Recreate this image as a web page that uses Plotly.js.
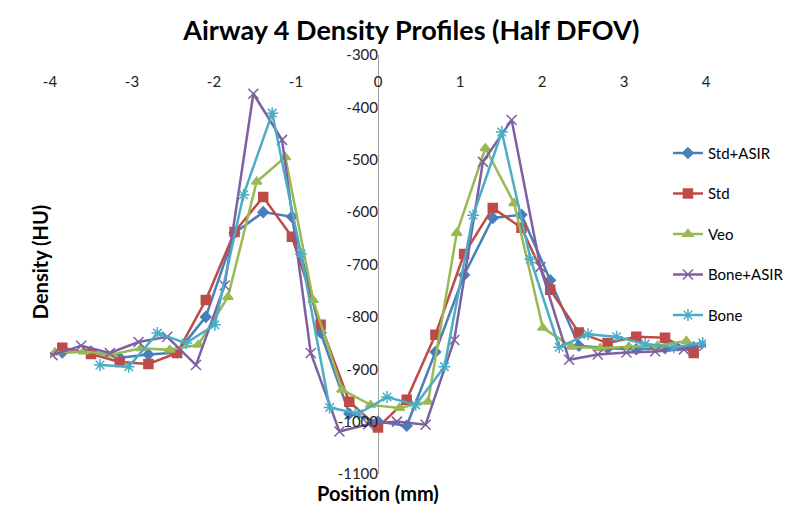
<!DOCTYPE html>
<html>
<head>
<meta charset="utf-8">
<script src="https://cdn.plot.ly/plotly-3.0.1.min.js"></script>
<style>html,body{margin:0;padding:0;background:#fff;}#chart{width:794px;height:506px;}</style>
</head>
<body>
<div id="chart"></div>
<script>
// Position (mm) and density (HU) for each reconstruction
const stdAsirX = [-3.85,-3.5,-3.15,-2.8,-2.45,-2.1,-1.75,-1.4,-1.05,-0.7,-0.35,0,0.35,0.7,1.05,1.4,1.75,2.1,2.45,2.8,3.15,3.5,3.85];
const stdAsirY = [-868,-866,-878,-872,-868,-800,-640,-600,-609,-830,-985,-1000,-1008,-867,-720,-611,-605,-730,-855,-860,-862,-860,-858];

const stdX = [-3.85,-3.5,-3.15,-2.8,-2.45,-2.1,-1.75,-1.4,-1.05,-0.7,-0.35,0,0.35,0.7,1.05,1.4,1.75,2.1,2.45,2.8,3.15,3.5,3.85];
const stdY = [-859,-871,-886,-890,-869,-768,-638,-571,-647,-815,-962,-1011,-958,-834,-680,-592,-630,-748,-830,-850,-838,-840,-869];

const veoX = [-3.94,-3.59,-3.24,-2.89,-2.54,-2.19,-1.83,-1.48,-1.13,-0.79,-0.44,-0.09,0.26,0.61,0.96,1.31,1.66,2.01,2.36,2.71,3.06,3.41,3.76];
const veoY = [-868,-866,-872,-860,-863,-853,-762,-542,-495,-768,-939,-968,-974,-962,-640,-478,-583,-821,-857,-860,-857,-855,-846];

const boneAsirX = [-3.97,-3.62,-3.27,-2.92,-2.57,-2.22,-1.87,-1.52,-1.17,-0.82,-0.47,-0.12,0.23,0.58,0.93,1.28,1.63,1.98,2.33,2.68,3.03,3.38,3.73,3.98];
const boneAsirY = [-873,-855,-869,-848,-838,-892,-740,-374,-462,-869,-1019,-1005,-1000,-1006,-844,-504,-424,-705,-882,-872,-868,-866,-862,-855];

const boneX = [-3.39,-3.04,-2.69,-2.34,-1.99,-1.64,-1.29,-0.94,-0.59,-0.24,0.11,0.46,0.81,1.16,1.51,1.86,2.21,2.56,2.91,3.26,3.61,3.96];
const boneY = [-892,-895,-831,-850,-815,-567,-411,-680,-973,-985,-953,-968,-895,-606,-447,-690,-858,-833,-838,-852,-858,-850];

const yTicks = [-300,-400,-500,-600,-700,-800,-900,-1000,-1100];
const xTicks = [-4,-3,-2,-1,0,1,2,3,4];

const series = [
  {name:'Std+ASIR', x:stdAsirX, y:stdAsirY, color:'#4A7EBB', symbol:'diamond', size:8},
  {name:'Std', x:stdX, y:stdY, color:'#BE4B48', symbol:'square', size:9},
  {name:'Veo', x:veoX, y:veoY, color:'#98B954', symbol:'triangle-up', size:9},
  {name:'Bone+ASIR', x:boneAsirX, y:boneAsirY, color:'#7D60A0', symbol:'x-thin-open', size:10},
  {name:'Bone', x:boneX, y:boneY, color:'#4BACC6', symbol:'asterisk-open', size:10}
];

const traces = series.map((s,i) => ({
  type:'scatter', mode:'lines+markers', name:s.name, x:s.x, y:s.y,
  legendgroup:'g'+i,
  line:{color:s.color, width:2.5},
  marker:{color:s.color, symbol:s.symbol, size:s.size, line:{color:s.color, width:1.5}}
}));

const font = 'Lato, "Open Sans", "DejaVu Sans", sans-serif';
const layout = {
  width:794, height:506,
  margin:{l:50, r:88, t:55, b:32, autoexpand:false},
  paper_bgcolor:'#fff', plot_bgcolor:'#fff',
  showlegend:true,
  title:{text:'<b>Airway 4 Density Profiles (Half DFOV)</b>', x:0.518, xanchor:'center', y:0.94, yanchor:'middle',
         font:{family:font, size:27, color:'#000'}},
  xaxis:{range:[-4,4], tickvals:xTicks, ticktext:xTicks.map(String), showgrid:false,
         zeroline:true, zerolinecolor:'#a0a0a0', zerolinewidth:1,
         showline:false, ticks:'', anchor:'free', position:0.962, side:'bottom', automargin:false,
         tickfont:{family:font, size:15, color:'#222'}},
  yaxis:{range:[-1100,-300], tickvals:yTicks, ticktext:yTicks.map(String), showgrid:false,
         zeroline:false, showline:false, ticks:'', anchor:'free', position:0.5, side:'left', automargin:false,
         tickfont:{family:font, size:15, color:'#222'}},
  legend:{x:0.942, xanchor:'left', y:0.805, yanchor:'top', tracegroupgap:18,
          font:{family:font, size:15, color:'#000'}, bgcolor:'rgba(0,0,0,0)', itemwidth:30},
  annotations:[
    {text:'<b>Density (HU)</b>', xref:'paper', yref:'paper', x:-0.015, y:0.506, xanchor:'center', yanchor:'middle',
     textangle:-90, showarrow:false, font:{family:font, size:20, color:'#000'}},
    {text:'<b>Position (mm)</b>', xref:'paper', yref:'paper', x:0.5, y:-0.045, xanchor:'center', yanchor:'middle',
     showarrow:false, font:{family:font, size:20, color:'#000'}}
  ]
};

Plotly.newPlot('chart', traces, layout, {displayModeBar:false, staticPlot:true});
</script>
</body>
</html>
